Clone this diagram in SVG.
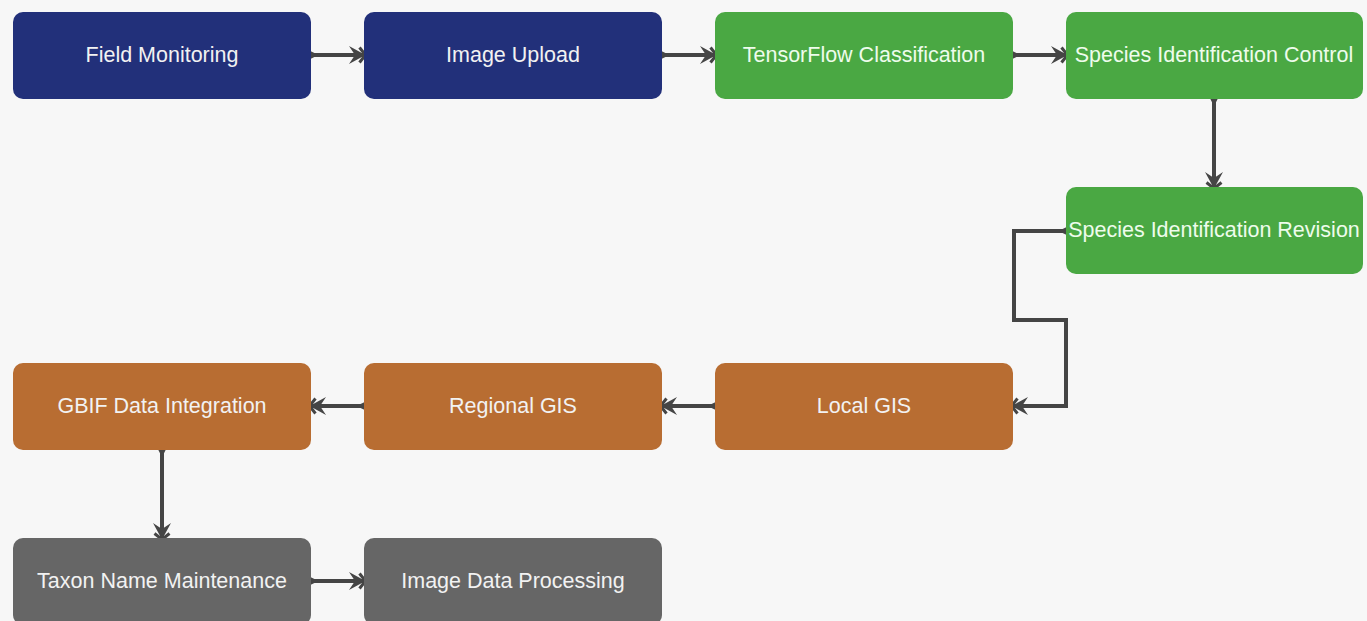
<svg xmlns="http://www.w3.org/2000/svg" width="1367" height="621" viewBox="0 0 1367 621">
<defs>
<style>
.n rect{rx:10;ry:10}
.blue rect{fill:#22307a}
.green rect{fill:#4aa843}
.orange rect{fill:#b86d32}
.gray rect{fill:#666666}
.n text{font-family:"Liberation Sans",Arial,sans-serif;font-size:21.5px;fill:#f2f2f2;text-anchor:middle;dominant-baseline:central}
.green text{fill:#eefcec}
.c path{fill:none;stroke:#454545;stroke-width:4;marker-start:url(#dot);marker-end:url(#arr)}
</style>
<marker id="arr" viewBox="0 0 12 12" refX="11" refY="6" markerWidth="4.5" markerHeight="4.5" orient="auto" markerUnits="strokeWidth">
<path d="M1,0 L12,6 L1,12 L5,6 Z" fill="#454545"/>
<path d="M8,1 L12,6 L8,11" fill="none" stroke="#454545" stroke-width="2"/>
</marker>
<marker id="dot" viewBox="0 0 10 10" refX="3" refY="5" markerWidth="2.6" markerHeight="2.6" orient="auto" markerUnits="strokeWidth">
<path d="M0,0 L10,5 L0,10 Z" fill="#454545"/>
</marker>
</defs>
<rect width="1367" height="621" fill="#f7f7f7"/>
<g id="connectors" class="c">
<path d="M311,55 L364,55"/>
<path d="M662,55 L715,55"/>
<path d="M1013,55 L1066,55"/>
<path d="M1214,99 L1214,187"/>
<path d="M1066,231 L1014,231 L1014,320 L1066,320 L1066,406 L1013,406"/>
<path d="M715,406 L662,406"/>
<path d="M364,406 L311,406"/>
<path d="M162,450 L162,538"/>
<path d="M311,581 L364,581"/>
</g>
<g id="field-monitoring" class="n blue"><rect x="13" y="12" width="298" height="87"/><text x="162" y="55">Field Monitoring</text></g>
<g id="image-upload" class="n blue"><rect x="364" y="12" width="298" height="87"/><text x="513" y="55">Image Upload</text></g>
<g id="tensorflow-classification" class="n green"><rect x="715" y="12" width="298" height="87"/><text x="864" y="55">TensorFlow Classification</text></g>
<g id="species-identification-control" class="n green"><rect x="1066" y="12" width="297" height="87"/><text x="1214" y="55">Species Identification Control</text></g>
<g id="species-identification-revision" class="n green"><rect x="1066" y="187" width="297" height="87"/><text x="1214" y="230">Species Identification Revision</text></g>
<g id="local-gis" class="n orange"><rect x="715" y="363" width="298" height="87"/><text x="864" y="406">Local GIS</text></g>
<g id="regional-gis" class="n orange"><rect x="364" y="363" width="298" height="87"/><text x="513" y="406">Regional GIS</text></g>
<g id="gbif-data-integration" class="n orange"><rect x="13" y="363" width="298" height="87"/><text x="162" y="406">GBIF Data Integration</text></g>
<g id="taxon-name-maintenance" class="n gray"><rect x="13" y="538" width="298" height="87"/><text x="162" y="581">Taxon Name Maintenance</text></g>
<g id="image-data-processing" class="n gray"><rect x="364" y="538" width="298" height="87"/><text x="513" y="581">Image Data Processing</text></g>
</svg>
